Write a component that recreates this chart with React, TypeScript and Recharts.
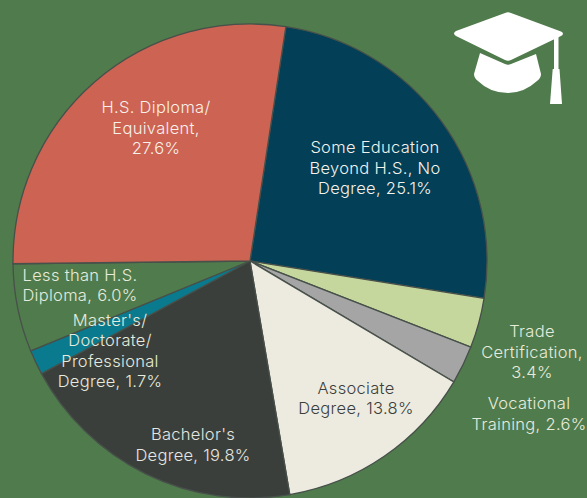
import { PieChart, Pie, Cell } from "recharts";

const categories = [
  "Some Education Beyond H.S., No Degree",
  "Trade Certification",
  "Vocational Training",
  "Associate Degree",
  "Bachelor's Degree",
  "Master's/ Doctorate/ Professional Degree",
  "Less than H.S. Diploma",
  "H.S. Diploma/ Equivalent",
];
const shares = [25.1, 3.4, 2.6, 13.8, 19.8, 1.7, 6.0, 27.6];
const colors = ["#033F57", "#C6D79E", "#A5A5A5", "#EDEBE0", "#3B3F3C", "#0A7A8E", "#507B4C", "#CD6352"];

const labelLines = [
  ["Some Education", "Beyond H.S., No", "Degree, 25.1%"],
  ["Trade", "Certification,", "3.4%"],
  ["Vocational", "Training, 2.6%"],
  ["Associate", "Degree, 13.8%"],
  ["Bachelor's", "Degree, 19.8%"],
  ["Master's/", "Doctorate/", "Professional", "Degree, 1.7%"],
  ["Less than H.S.", "Diploma, 6.0%"],
  ["H.S. Diploma/", "Equivalent,", "27.6%"],
];

// where each label block is centred, labels were placed by hand in the original
const labelCenters = [
  [375, 167.5],
  [532, 351.5],
  [529, 413.5],
  [356, 398],
  [193, 444.5],
  [110, 350.5],
  [80, 285],
  [156, 127.5],
];
const labelColors = ["#F4F3EC", "#E6EBDD", "#E6EBDD", "#3B3F3C", "#E6E6E0", "#E6EBDD", "#E6EBDD", "#F7F1EC"];

const data = categories.map((name, i) => ({ name, value: shares[i] }));

const LINE_HEIGHT = 20.6;

function renderLabel({ index }: { index: number }) {
  const lines = labelLines[index];
  const [x, y] = labelCenters[index];
  const top = y - ((lines.length - 1) * LINE_HEIGHT) / 2;
  return (
    <text
      key={index}
      textAnchor="middle"
      dominantBaseline="central"
      fill={labelColors[index]}
      fontFamily="Inter, sans-serif"
      fontWeight={300}
      fontSize={16.5}
      letterSpacing={0.3}
    >
      {lines.map((line, i) => (
        <tspan key={line} x={x} y={top + i * LINE_HEIGHT}>
          {line}
        </tspan>
      ))}
    </text>
  );
}

function GradCap() {
  return (
    <svg width={587} height={498} style={{ position: "absolute", left: 0, top: 0 }}>
      <path
        d="M456 31 L505 13 Q508 11.5 511 13 L561 31.5 Q565 33.5 561 36 L511 60 Q508 61.5 505 60 L456 36 Q452 33.5 456 31 Z"
        fill="#fff"
      />
      <path
        d="M480 53 L505 64 Q508 65.5 511 64 L536 54 L541 74 Q541 78 537 81 Q524 93 508 93 Q490 93 478 81 Q474 78 474 74 Z"
        fill="#fff"
      />
      <path d="M554 38 L558.5 36 L558.5 69 L559.5 69 L562 104 L550 104 L552.7 69 L554 69 Z" fill="#fff" />
    </svg>
  );
}

export default function App() {
  return (
    <div style={{ position: "fixed", left: 0, top: 0, width: 587, height: 498, background: "#507B4C" }}>
      <PieChart
        width={587}
        height={498}
        margin={{ top: 0, right: 0, bottom: 0, left: 0 }}
        style={{ position: "absolute", left: 0, top: 0 }}
      >
        <Pie
          data={data}
          dataKey="value"
          nameKey="name"
          cx={250}
          cy={261}
          outerRadius={237}
          startAngle={81.3}
          endAngle={-278.7}
          stroke="#47504A"
          strokeWidth={1.3}
          label={renderLabel}
          labelLine={false}
          isAnimationActive={false}
        >
          {data.map((d, i) => (
            <Cell key={d.name} fill={colors[i]} />
          ))}
        </Pie>
      </PieChart>
      <GradCap />
    </div>
  );
}
